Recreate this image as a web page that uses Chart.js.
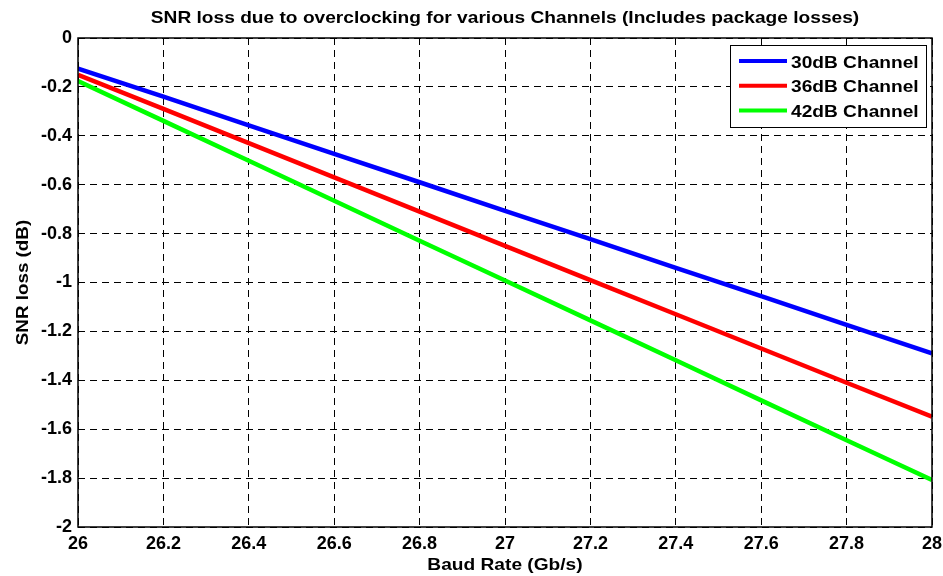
<!DOCTYPE html>
<html>
<head>
<meta charset="utf-8">
<script src="https://cdn.jsdelivr.net/npm/chart.js@4"></script>
<style>
  html, body { margin: 0; padding: 0; background: #fff; }
  #wrap { width: 943px; height: 576px; }
</style>
</head>
<body>
<div id="wrap"><canvas id="snrChart" width="943" height="576"></canvas></div>
<script>
const baudRate = [26, 26.2, 26.4, 26.6, 26.8, 27, 27.2, 27.4, 27.6, 27.8, 28];
const loss30dB = [-0.125, -0.24, -0.357, -0.474, -0.59, -0.707, -0.823, -0.94, -1.056, -1.173, -1.29];
const loss36dB = [-0.151, -0.29, -0.43, -0.57, -0.71, -0.85, -0.99, -1.13, -1.27, -1.41, -1.549];
const loss42dB = [-0.176, -0.339, -0.502, -0.666, -0.829, -0.992, -1.155, -1.318, -1.482, -1.645, -1.808];
const seriesNames = ['30dB Channel', '36dB Channel', '42dB Channel'];

const FONT = '"Liberation Sans", Arial, Helvetica, sans-serif';
const titleText = 'SNR loss due to overclocking for various Channels (Includes package losses)';
const xTitle = 'Baud Rate (Gb/s)';
const yTitle = 'SNR loss (dB)';

function toPoints(ys) {
    return baudRate.map((x, i) => ({ x: x, y: ys[i] }));
}

// text drawn a little wider, like the matlab export
function wideText(ctx, text, x, y, sx, align, angle) {
    ctx.save();
    ctx.translate(x, y);
    if (angle) ctx.rotate(angle);
    ctx.scale(sx, 1);
    ctx.textAlign = align;
    ctx.textBaseline = 'alphabetic';
    ctx.fillText(text, 0, 0);
    ctx.restore();
}

const matlabFrame = {
    id: 'matlabFrame',
    afterDraw(chart) {
        const ctx = chart.ctx;
        const a = chart.chartArea;
        ctx.save();
        // axes box
        ctx.strokeStyle = '#000';
        ctx.lineWidth = 1.5;
        ctx.strokeRect(a.left, a.top, a.right - a.left, a.bottom - a.top);

        // titles
        ctx.fillStyle = '#000';
        ctx.font = 'bold 16.5px ' + FONT;
        wideText(ctx, titleText, (a.left + a.right) / 2, 23, 1.16, 'center');
        wideText(ctx, xTitle, (a.left + a.right) / 2, 570, 1.16, 'center');
        wideText(ctx, yTitle, 28, (a.top + a.bottom) / 2, 1.14, 'center', -Math.PI / 2);

        // legend in the upper right corner
        const bx = 730, by = 45, bw = 196, bh = 82;
        ctx.fillStyle = '#fff';
        ctx.fillRect(bx, by, bw, bh);
        ctx.strokeStyle = '#000';
        ctx.lineWidth = 1;
        ctx.strokeRect(bx + 0.5, by + 0.5, bw, bh);
        chart.data.datasets.forEach((ds, i) => {
            const ly = 61 + i * 24.8;
            ctx.strokeStyle = ds.borderColor;
            ctx.lineWidth = 4;
            ctx.beginPath();
            ctx.moveTo(739, ly);
            ctx.lineTo(787, ly);
            ctx.stroke();
            ctx.fillStyle = '#000';
            ctx.font = 'bold 16.5px ' + FONT;
            wideText(ctx, ds.label, 791, ly + 6.5, 1.16, 'left');
        });
        ctx.restore();
    }
};

const ctxSnr = document.getElementById('snrChart').getContext('2d');

new Chart(ctxSnr, {
    type: 'line',
    data: {
        datasets: [{
            label: seriesNames[0],
            data: toPoints(loss30dB),
            borderColor: '#0000ff',
            borderWidth: 4.5,
            pointRadius: 0,
            fill: false
        }, {
            label: seriesNames[1],
            data: toPoints(loss36dB),
            borderColor: '#ff0000',
            borderWidth: 4.5,
            pointRadius: 0,
            fill: false
        }, {
            label: seriesNames[2],
            data: toPoints(loss42dB),
            borderColor: '#00ff00',
            borderWidth: 4.5,
            pointRadius: 0,
            fill: false
        }]
    },
    options: {
        responsive: false,
        animation: false,
        devicePixelRatio: 1,
        layout: {
            padding: { top: 38, right: 11, left: 0, bottom: 0 }
        },
        plugins: {
            legend: { display: false },
            title: { display: false },
            tooltip: { enabled: false }
        },
        scales: {
            x: {
                type: 'linear',
                min: 26,
                max: 28,
                ticks: {
                    stepSize: 0.2,
                    color: '#000',
                    padding: 6,
                    maxRotation: 0,
                    font: { family: FONT, size: 18, weight: 'bold' },
                    callback: (v) => String(Number(v.toFixed(1)))
                },
                grid: { color: '#000', lineWidth: 1, drawTicks: false },
                border: { display: false, dash: [7, 5] },
                afterFit: (scale) => {
                    scale.height = 49;
                    scale.paddingLeft = 0;
                    scale.paddingRight = 0;
                }
            },
            y: {
                min: -2,
                max: 0,
                ticks: {
                    stepSize: 0.2,
                    color: '#000',
                    padding: 6,
                    font: { family: FONT, size: 18, weight: 'bold' },
                    callback: (v) => String(Number(v.toFixed(1)))
                },
                grid: { color: '#000', lineWidth: 1, drawTicks: false },
                border: { display: false, dash: [7, 5] },
                afterFit: (scale) => {
                    scale.width = 78;
                    scale.paddingTop = 0;
                    scale.paddingBottom = 0;
                }
            }
        }
    },
    plugins: [matlabFrame]
});
</script>
</body>
</html>
